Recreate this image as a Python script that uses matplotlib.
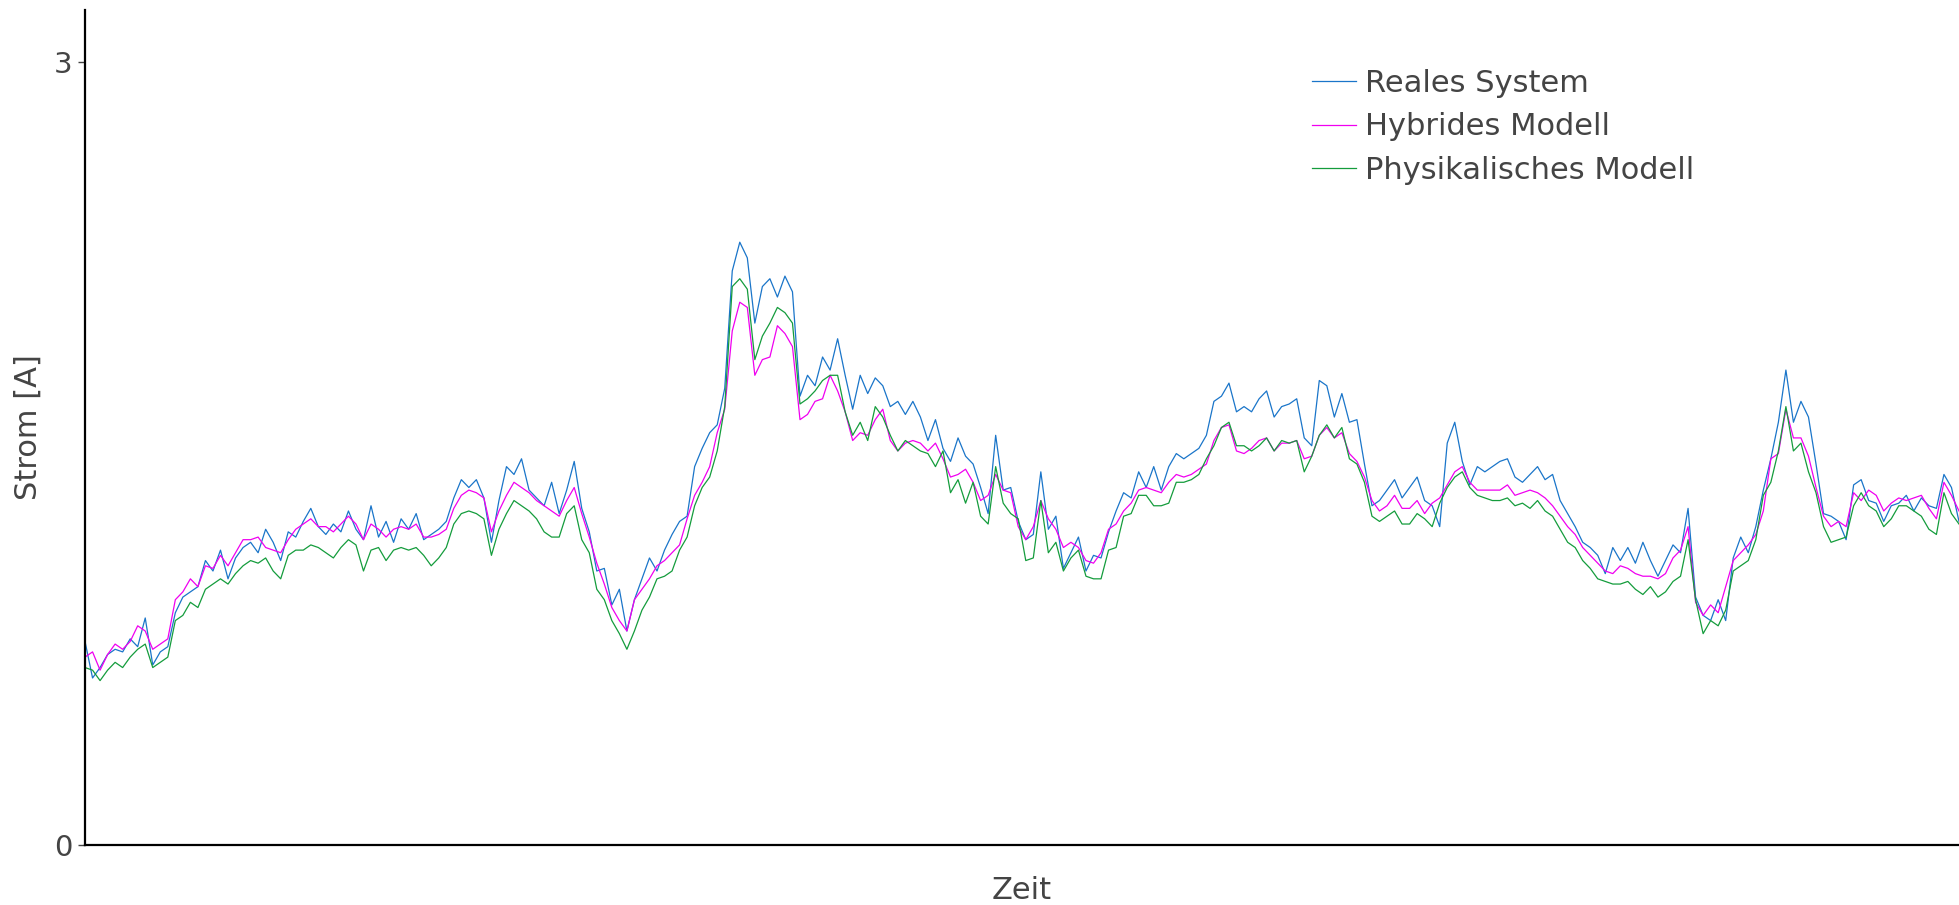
import matplotlib.pyplot as plt

# Messwerte Strom [A], gleichmäßig abgetastet
reales_system = [
    0.78, 0.64, 0.68, 0.73, 0.75, 0.74, 0.79, 0.76, 0.87, 0.69,
    0.74, 0.76, 0.89, 0.95, 0.97, 0.99, 1.09, 1.05, 1.13, 1.02,
    1.10, 1.14, 1.16, 1.12, 1.21, 1.16, 1.09, 1.20, 1.18, 1.24,
    1.29, 1.22, 1.19, 1.23, 1.20, 1.28, 1.21, 1.17, 1.30, 1.18,
    1.24, 1.16, 1.25, 1.21, 1.27, 1.17, 1.19, 1.21, 1.24, 1.33,
    1.40, 1.37, 1.40, 1.33, 1.16, 1.32, 1.45, 1.42, 1.48, 1.36,
    1.33, 1.30, 1.39, 1.27, 1.36, 1.47, 1.29, 1.20, 1.05, 1.06,
    0.92, 0.98, 0.82, 0.94, 1.02, 1.10, 1.05, 1.13, 1.19, 1.24,
    1.26, 1.45, 1.52, 1.58, 1.61, 1.75, 2.20, 2.31, 2.25, 2.00,
    2.14, 2.17, 2.10, 2.18, 2.12, 1.72, 1.80, 1.76, 1.87, 1.82,
    1.94, 1.80, 1.67, 1.80, 1.73, 1.79, 1.76, 1.68, 1.70, 1.65,
    1.70, 1.64, 1.55, 1.63, 1.52, 1.47, 1.56, 1.49, 1.46, 1.37,
    1.27, 1.57, 1.36, 1.37, 1.24, 1.17, 1.19, 1.43, 1.21, 1.26,
    1.06, 1.12, 1.18, 1.05, 1.11, 1.10, 1.20, 1.28, 1.35, 1.33,
    1.43, 1.37, 1.45, 1.36, 1.45, 1.50, 1.48, 1.50, 1.52, 1.57,
    1.70, 1.72, 1.77, 1.66, 1.68, 1.66, 1.71, 1.74, 1.64, 1.68,
    1.69, 1.71, 1.56, 1.53, 1.78, 1.76, 1.64, 1.73, 1.62, 1.63,
    1.46, 1.30, 1.32, 1.36, 1.40, 1.33, 1.37, 1.41, 1.32, 1.30,
    1.22, 1.54, 1.62, 1.47, 1.38, 1.45, 1.43, 1.45, 1.47, 1.48,
    1.41, 1.39, 1.42, 1.45, 1.40, 1.42, 1.32, 1.27, 1.22, 1.16,
    1.14, 1.11, 1.04, 1.14, 1.09, 1.14, 1.08, 1.16, 1.09, 1.03,
    1.09, 1.15, 1.12, 1.29, 0.95, 0.88, 0.86, 0.94, 0.86, 1.10,
    1.18, 1.12, 1.22, 1.36, 1.48, 1.62, 1.82, 1.62, 1.70, 1.64,
    1.46, 1.27, 1.26, 1.24, 1.17, 1.38, 1.40, 1.32, 1.31, 1.24,
    1.30, 1.31, 1.34, 1.28, 1.33, 1.30, 1.29, 1.42, 1.37, 1.24,
]

hybrides_modell = [
    0.72, 0.74, 0.67, 0.73, 0.77, 0.75, 0.78, 0.84, 0.82, 0.75,
    0.77, 0.79, 0.94, 0.97, 1.02, 0.99, 1.07, 1.06, 1.11, 1.07,
    1.12, 1.17, 1.17, 1.18, 1.14, 1.13, 1.12, 1.17, 1.21, 1.23,
    1.25, 1.22, 1.22, 1.20, 1.23, 1.26, 1.23, 1.17, 1.23, 1.21,
    1.18, 1.21, 1.22, 1.21, 1.23, 1.18, 1.18, 1.19, 1.21, 1.29,
    1.34, 1.36, 1.35, 1.33, 1.20, 1.28, 1.34, 1.39, 1.37, 1.35,
    1.32, 1.30, 1.28, 1.26, 1.32, 1.37, 1.27, 1.18, 1.08, 1.00,
    0.91, 0.86, 0.82, 0.94, 0.98, 1.02, 1.07, 1.09, 1.12, 1.15,
    1.25, 1.34, 1.39, 1.45, 1.58, 1.67, 1.97, 2.08, 2.06, 1.80,
    1.86, 1.87, 1.99, 1.96, 1.91, 1.63, 1.65, 1.70, 1.71, 1.80,
    1.74, 1.66, 1.55, 1.58, 1.57, 1.63, 1.67, 1.55, 1.51, 1.54,
    1.55, 1.54, 1.51, 1.54, 1.48, 1.41, 1.42, 1.44, 1.39, 1.32,
    1.34, 1.42, 1.36, 1.35, 1.22, 1.17, 1.22, 1.32, 1.25, 1.21,
    1.14, 1.16, 1.14, 1.09, 1.08, 1.12, 1.21, 1.23, 1.28, 1.31,
    1.36, 1.37, 1.36, 1.35, 1.39, 1.42, 1.41, 1.42, 1.44, 1.46,
    1.55, 1.60, 1.61, 1.51, 1.50, 1.52, 1.55, 1.56, 1.51, 1.54,
    1.54, 1.55, 1.48, 1.49, 1.57, 1.60, 1.56, 1.58, 1.50, 1.47,
    1.41, 1.32, 1.28, 1.30, 1.34, 1.29, 1.29, 1.32, 1.27, 1.31,
    1.33, 1.38, 1.43, 1.45, 1.39, 1.36, 1.36, 1.36, 1.36, 1.38,
    1.34, 1.35, 1.36, 1.35, 1.33, 1.30, 1.26, 1.22, 1.19, 1.14,
    1.11, 1.08, 1.05, 1.04, 1.07, 1.06, 1.04, 1.03, 1.03, 1.02,
    1.04, 1.10, 1.13, 1.22, 0.93, 0.88, 0.92, 0.89, 0.99, 1.09,
    1.12, 1.15, 1.19, 1.28, 1.48, 1.50, 1.67, 1.56, 1.56, 1.49,
    1.37, 1.26, 1.22, 1.24, 1.22, 1.35, 1.32, 1.36, 1.34, 1.28,
    1.31, 1.33, 1.32, 1.33, 1.34, 1.29, 1.25, 1.39, 1.34, 1.28,
]

physikalisches_modell = [
    0.68, 0.67, 0.63, 0.67, 0.70, 0.68, 0.72, 0.75, 0.77, 0.68,
    0.70, 0.72, 0.86, 0.88, 0.93, 0.91, 0.98, 1.00, 1.02, 1.00,
    1.04, 1.07, 1.09, 1.08, 1.10, 1.05, 1.02, 1.11, 1.13, 1.13,
    1.15, 1.14, 1.12, 1.10, 1.14, 1.17, 1.15, 1.05, 1.13, 1.14,
    1.09, 1.13, 1.14, 1.13, 1.14, 1.11, 1.07, 1.10, 1.14, 1.23,
    1.27, 1.28, 1.27, 1.25, 1.11, 1.21, 1.27, 1.32, 1.30, 1.28,
    1.25, 1.20, 1.18, 1.18, 1.27, 1.30, 1.17, 1.12, 0.98, 0.94,
    0.86, 0.81, 0.75, 0.82, 0.90, 0.95, 1.02, 1.03, 1.05, 1.13,
    1.18, 1.30, 1.37, 1.41, 1.51, 1.68, 2.14, 2.17, 2.13, 1.86,
    1.95, 2.00, 2.06, 2.04, 2.00, 1.69, 1.71, 1.74, 1.78, 1.80,
    1.80, 1.66, 1.57, 1.62, 1.55, 1.68, 1.64, 1.57, 1.51, 1.55,
    1.53, 1.51, 1.50, 1.45, 1.51, 1.35, 1.40, 1.31, 1.39, 1.26,
    1.23, 1.45, 1.31, 1.27, 1.25, 1.09, 1.10, 1.32, 1.12, 1.16,
    1.05, 1.10, 1.13, 1.03, 1.02, 1.02, 1.13, 1.14, 1.26, 1.27,
    1.34, 1.34, 1.30, 1.30, 1.31, 1.39, 1.39, 1.40, 1.42, 1.48,
    1.53, 1.60, 1.62, 1.53, 1.53, 1.51, 1.53, 1.56, 1.51, 1.55,
    1.54, 1.55, 1.43, 1.49, 1.57, 1.61, 1.56, 1.60, 1.48, 1.46,
    1.39, 1.26, 1.24, 1.26, 1.28, 1.23, 1.23, 1.27, 1.25, 1.22,
    1.31, 1.37, 1.41, 1.43, 1.37, 1.34, 1.33, 1.32, 1.32, 1.33,
    1.30, 1.31, 1.29, 1.32, 1.28, 1.26, 1.21, 1.16, 1.14, 1.09,
    1.06, 1.02, 1.01, 1.00, 1.00, 1.01, 0.98, 0.96, 0.99, 0.95,
    0.97, 1.01, 1.03, 1.17, 0.94, 0.81, 0.86, 0.84, 0.90, 1.05,
    1.07, 1.09, 1.17, 1.34, 1.39, 1.51, 1.68, 1.51, 1.54, 1.43,
    1.35, 1.22, 1.16, 1.17, 1.18, 1.30, 1.35, 1.30, 1.28, 1.22,
    1.25, 1.30, 1.30, 1.28, 1.26, 1.21, 1.19, 1.35, 1.27, 1.23,
]

serien = [
    ("Reales System", reales_system, "#1a75c9"),
    ("Hybrides Modell", hybrides_modell, "#f000f0"),
    ("Physikalisches Modell", physikalisches_modell, "#149c3c"),
]

text_farbe = "#444444"
plt.rcParams["font.family"] = ["DejaVu Sans"]

fig = plt.figure(figsize=(19.59, 9.05), dpi=100)
ax = fig.add_axes([0.0434, 0.0663, 0.9566, 0.9227])

zeit = list(range(len(reales_system)))
for name, werte, farbe in serien:
    ax.plot(zeit, werte, color=farbe, linewidth=0.9, label=name)

ax.set_xlim(0, len(zeit) - 1)
ax.set_ylim(0, 3.2)
ax.set_yticks([0, 3])
ax.set_xticks([])

for seite in ["top", "right"]:
    ax.spines[seite].set_visible(False)
ax.spines["left"].set_linewidth(1.6)
ax.spines["bottom"].set_linewidth(1.6)

ax.tick_params(axis="y", length=5, width=1, color=text_farbe,
               labelsize=21, labelcolor=text_farbe, pad=4)

ax.set_ylabel("Strom [A]", fontsize=22, color=text_farbe, labelpad=8)
ax.set_xlabel("Zeit", fontsize=22, color=text_farbe, labelpad=22)

leg = ax.legend(loc="upper left", bbox_to_anchor=(0.6697, 0.924),
                bbox_transform=fig.transFigure, frameon=False,
                fontsize=22, handlelength=1.45, handletextpad=0.3,
                labelspacing=0.48, borderpad=0, borderaxespad=0)
for t in leg.get_texts():
    t.set_color(text_farbe)

fig.savefig("out.png", dpi=100)
